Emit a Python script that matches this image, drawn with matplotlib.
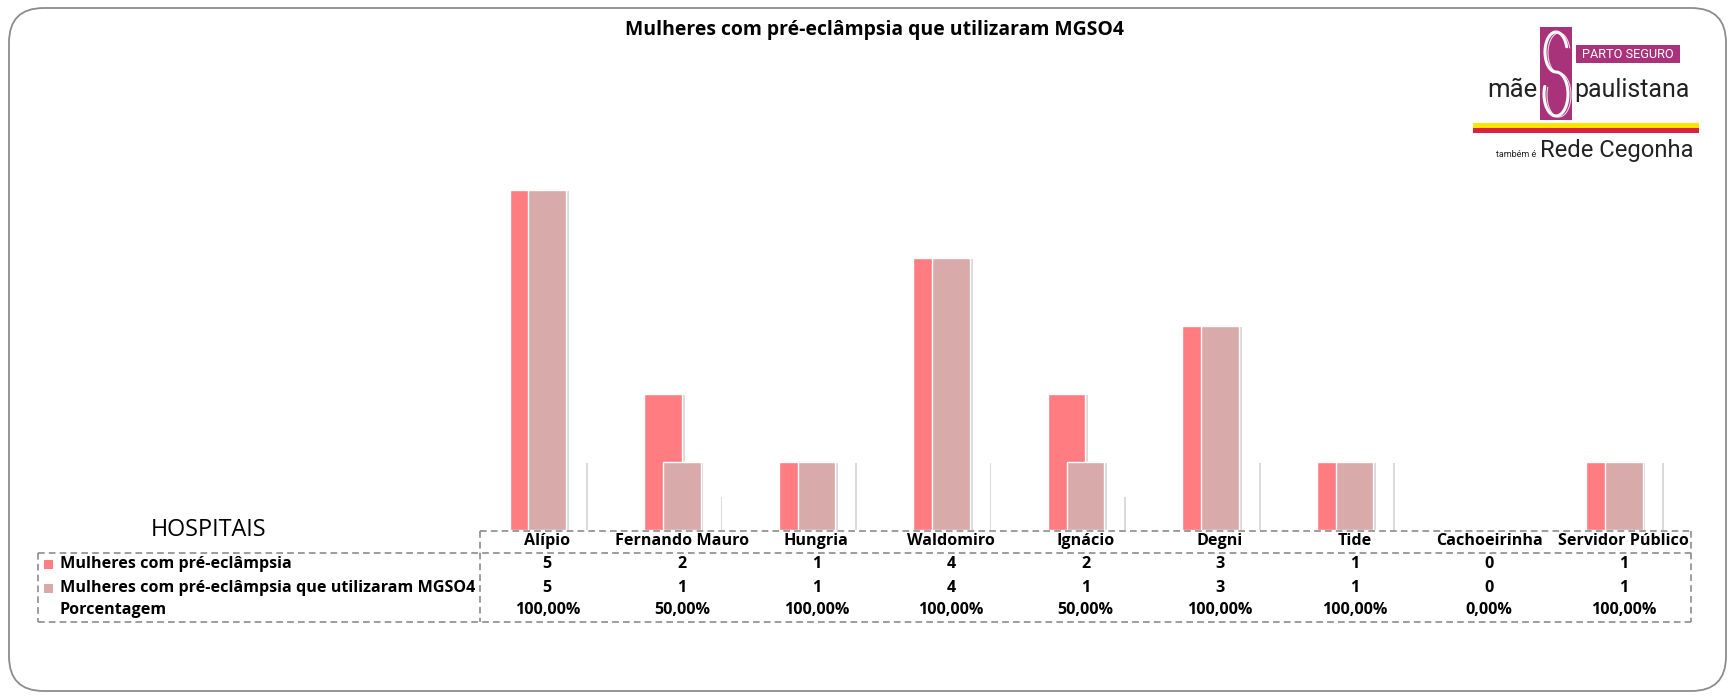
import numpy as np
import matplotlib
matplotlib.use("Agg")
import matplotlib.pyplot as plt
from matplotlib.patches import FancyBboxPatch, Rectangle
from matplotlib.lines import Line2D
import matplotlib.patheffects as pe

# ---------------- data ----------------
categories = ["Alípio", "Fernando Mauro", "Hungria", "Waldomiro", "Ignácio",
              "Degni", "Tide", "Cachoeirinha", "Servidor Público"]
preeclampsia = [5, 2, 1, 4, 2, 3, 1, 0, 1]
mgso4 = [5, 1, 1, 4, 1, 3, 1, 0, 1]
porcentagem = [1.0, 0.5, 1.0, 1.0, 0.5, 1.0, 1.0, 0.0, 1.0]
porcentagem_labels = ["100,00%", "50,00%", "100,00%", "100,00%", "50,00%",
                      "100,00%", "100,00%", "0,00%", "100,00%"]
series_names = ["Mulheres com pré-eclâmpsia",
                "Mulheres com pré-eclâmpsia que utilizaram MGSO4",
                "Porcentagem"]
title = "Mulheres com pré-eclâmpsia que utilizaram MGSO4"

# ---------------- style ----------------
W, H = 1733, 699
RED = "#FF7C80"
PINK = "#D9AAAA"
GRAY = "#8C8C8C"
MAGENTA = "#A8337A"
FONT = ["Open Sans", "DejaVu Sans"]
LOGO_FONT = ["Roboto", "DejaVu Sans"]

fig = plt.figure(figsize=(W / 100, H / 100), dpi=100)
fig.patch.set_facecolor("white")


def fx(px):
    return px / W


def fy(py):
    return 1 - py / H


renderer = fig.canvas.get_renderer()


def fit(t, width_px):
    w = t.get_window_extent(renderer).width
    t.set_fontsize(t.get_fontsize() * width_px / w)
    return t


# outer rounded border
border = FancyBboxPatch((fx(9), fy(691)), fx(1726) - fx(9), fy(8) - fy(691),
                        boxstyle="round,pad=0,rounding_size=0.02",
                        transform=fig.transFigure, facecolor="none",
                        edgecolor=GRAY, linewidth=1.3, mutation_aspect=W / H)
fig.patches.append(border)

# ---------------- axes with bars ----------------
x0, x1 = 480, 1691
y_base, y_top = 530, 122
ax = fig.add_axes([fx(x0), fy(y_base), fx(x1) - fx(x0), fy(y_top) - fy(y_base)])
ax.set_xlim(-0.5, len(categories) - 0.5)
ax.set_ylim(0, 6)
ax.axis("off")

x = np.arange(len(categories))
bw = 0.28
off = 0.14
shadow = [pe.SimplePatchShadow(offset=(2.0, -0.6), shadow_rgbFace="#a0a0a0", alpha=0.4),
          pe.Normal()]
b3 = ax.bar(x + off, porcentagem, bw, color="white", edgecolor="white",
            linewidth=0.8, zorder=1)
b1 = ax.bar(x - off, preeclampsia, bw, color=RED, edgecolor="white",
            linewidth=1.0, zorder=2)
b2 = ax.bar(x, mgso4, bw, color=PINK, edgecolor="white",
            linewidth=1.0, zorder=3)
for bars in (b3, b1, b2):
    for p in bars:
        if p.get_height() > 0:
            p.set_path_effects(shadow)

# ---------------- title ----------------
t = fig.text(fx(874), fy(30), title, ha="center", va="center",
             fontweight="bold", family=FONT, fontsize=12)
fit(t, 496)

# ---------------- data table ----------------
dash = dict(color=GRAY, linewidth=1.2, linestyle=(0, (4, 2.5)),
            transform=fig.transFigure)
y_h_top, y_body_top, y_bot = 531, 553, 622
x_left = 38
lines = [
    ((x0, x1), (y_h_top, y_h_top)),
    ((x_left, x1), (y_body_top, y_body_top)),
    ((x_left, x1), (y_bot, y_bot)),
    ((x0, x0), (y_h_top, y_bot)),
    ((x1, x1), (y_h_top, y_bot)),
    ((x_left, x_left), (y_body_top, y_bot)),
]
for (xa, xb), (ya, yb) in lines:
    fig.add_artist(Line2D([fx(xa), fx(xb)], [fy(ya), fy(yb)], **dash))

cell = (x1 - x0) / len(categories)
ref = fig.text(fx(60), fy(588), series_names[1], fontweight="bold",
               family=FONT, fontsize=10, va="center")
fit(ref, 415)
tfs = ref.get_fontsize()

fig.text(fx(60), fy(564), series_names[0], fontweight="bold", family=FONT,
         fontsize=tfs, va="center")
fig.text(fx(60), fy(610), series_names[2], fontweight="bold", family=FONT,
         fontsize=tfs, va="center")
for yc, col in ((564, RED), (588, PINK)):
    fig.patches.append(Rectangle((fx(44), fy(yc + 4.5)), fx(9), 9 / H,
                                 transform=fig.transFigure, facecolor=col,
                                 edgecolor="none"))

for i, name in enumerate(categories):
    cx = x0 + cell * (i + 0.5)
    fig.text(fx(cx), fy(541), name, ha="center", va="center",
             fontweight="bold", family=FONT, fontsize=tfs)
    fig.text(fx(cx), fy(564), str(preeclampsia[i]), ha="center", va="center",
             fontweight="bold", family=FONT, fontsize=tfs)
    fig.text(fx(cx), fy(588), str(mgso4[i]), ha="center", va="center",
             fontweight="bold", family=FONT, fontsize=tfs)
    fig.text(fx(cx), fy(610), porcentagem_labels[i], ha="center", va="center",
             fontweight="bold", family=FONT, fontsize=tfs)

hs = fig.text(fx(209), fy(530), "HOSPITAIS", ha="center", va="center",
              family=FONT, fontsize=13)
fit(hs, 115)

# ---------------- logo ----------------
fig.patches.append(Rectangle((fx(1540), fy(120)), fx(32), 93 / H,
                             transform=fig.transFigure, facecolor=MAGENTA,
                             edgecolor="none"))
# white swirl "S" drawn as a curve
th_u = np.linspace(np.radians(15), np.radians(270), 60)
th_l = np.linspace(np.radians(90), np.radians(-200), 60)
cx_s = 1556
ux = cx_s + 11 * np.cos(th_u)
uy = 52 - 20 * np.sin(th_u)
lx = cx_s + 12 * np.cos(th_l)
ly = 94 - 22 * np.sin(th_l)
sx = np.concatenate([ux, lx])
sy = np.concatenate([uy, ly])
fig.add_artist(Line2D(fx(sx), fy(sy), color="white", linewidth=2.2,
                      transform=fig.transFigure, solid_capstyle="round"))
fig.add_artist(Line2D(fx(sx + 3), fy(sy + 1), color="white", linewidth=0.8,
                      alpha=0.8, transform=fig.transFigure))

fig.patches.append(Rectangle((fx(1576), fy(63)), fx(104), 18 / H,
                             transform=fig.transFigure, facecolor=MAGENTA,
                             edgecolor="none"))
pt = fig.text(fx(1628), fy(54), "PARTO SEGURO", ha="center", va="center",
              color="white", family=LOGO_FONT, fontsize=9)
fit(pt, 92)
m = fig.text(fx(1538), fy(97), "mãe", ha="right", va="baseline",
             color="#222222", family=LOGO_FONT, fontsize=20)
fit(m, 50)
pl = fig.text(fx(1574), fy(97), "paulistana", ha="left", va="baseline",
              color="#222222", family=LOGO_FONT, fontsize=20)
fit(pl, 115)
fig.patches.append(Rectangle((fx(1473), fy(128)), fx(226), 5 / H,
                             transform=fig.transFigure, facecolor="#FFE400",
                             edgecolor="none"))
fig.patches.append(Rectangle((fx(1473), fy(133)), fx(226), 5 / H,
                             transform=fig.transFigure, facecolor="#D9233F",
                             edgecolor="none"))
tb = fig.text(fx(1536), fy(157), "também é", ha="right", va="baseline",
              color="#222222", family=LOGO_FONT, fontsize=6.5)
rc = fig.text(fx(1540), fy(157), "Rede Cegonha", ha="left", va="baseline",
              color="#222222", family=LOGO_FONT, fontsize=18)
fit(rc, 153)

fig.savefig("out.png", dpi=100, facecolor="white")
